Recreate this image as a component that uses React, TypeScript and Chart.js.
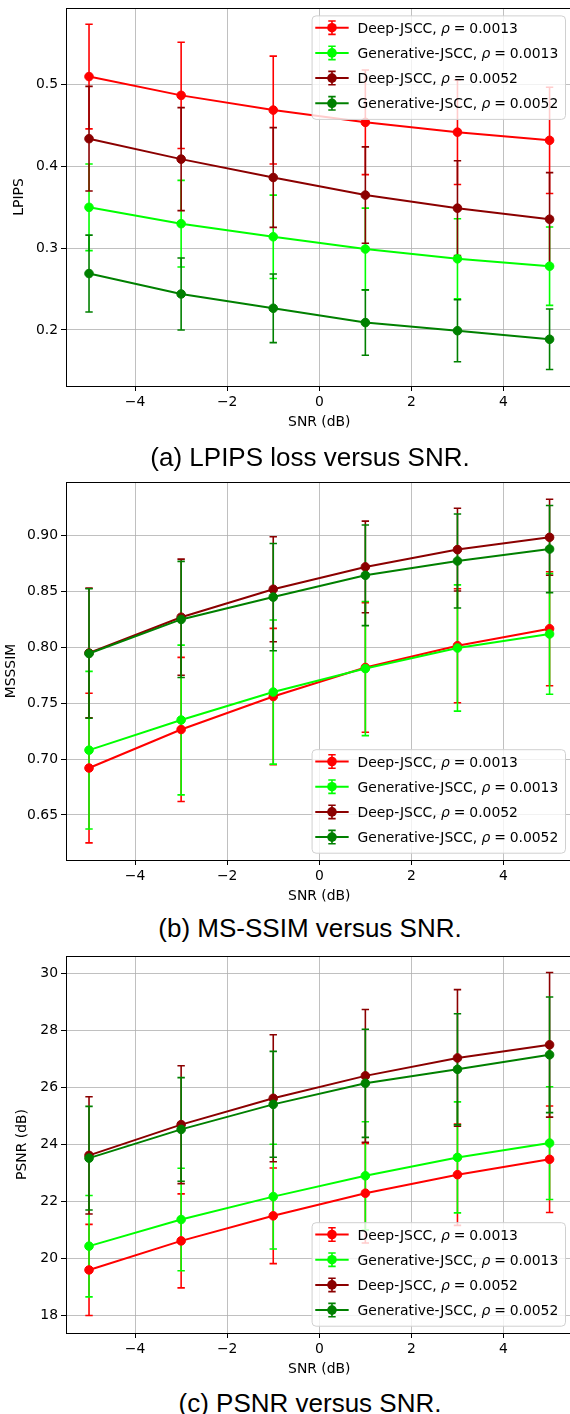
import React, { useEffect, useRef } from 'react';
import { Chart, registerables } from 'chart.js';

Chart.register(...registerables);

// ---------- data ----------
const snrDb = [-5, -3, -1, 1, 3, 5];
const xTicks = [-4, -2, 0, 2, 4];
const methodNames = ['Deep-JSCC', 'Generative-JSCC', 'Deep-JSCC', 'Generative-JSCC'];
const rhoValues = ['0.0013', '0.0013', '0.0052', '0.0052'];
const seriesColors = ['#ff0000', '#00ff00', '#8b0000', '#008000'];

// (a) LPIPS
const lpipsDeep0013 = [0.510, 0.487, 0.469, 0.454, 0.442, 0.432];
const lpipsDeep0013Err = [0.064, 0.065, 0.066, 0.064, 0.064, 0.065];
const lpipsGen0013 = [0.350, 0.330, 0.314, 0.299, 0.287, 0.278];
const lpipsGen0013Err = [0.053, 0.053, 0.051, 0.050, 0.049, 0.048];
const lpipsDeep0052 = [0.434, 0.409, 0.3865, 0.365, 0.349, 0.3355];
const lpipsDeep0052Err = [0.064, 0.063, 0.061, 0.059, 0.058, 0.057];
const lpipsGen0052 = [0.269, 0.244, 0.2265, 0.209, 0.199, 0.1886];
const lpipsGen0052Err = [0.047, 0.044, 0.042, 0.040, 0.038, 0.037];
const lpipsTicks = [0.2, 0.3, 0.4, 0.5];

// (b) MS-SSIM
const msssimDeep0013 = [0.692, 0.7265, 0.756, 0.782, 0.8015, 0.8167];
const msssimDeep0013Err = [0.067, 0.0645, 0.061, 0.058, 0.051, 0.051];
const msssimGen0013 = [0.708, 0.735, 0.760, 0.781, 0.7994, 0.812];
const msssimGen0013Err = [0.0705, 0.067, 0.0645, 0.060, 0.0565, 0.054];
const msssimDeep0052 = [0.795, 0.827, 0.852, 0.872, 0.8875, 0.8985];
const msssimDeep0052Err = [0.058, 0.052, 0.047, 0.041, 0.037, 0.034];
const msssimGen0052 = [0.7945, 0.825, 0.845, 0.8645, 0.8773, 0.888];
const msssimGen0052Err = [0.058, 0.052, 0.048, 0.045, 0.042, 0.039];
const msssimTicks = [0.65, 0.70, 0.75, 0.80, 0.85, 0.90];

// (c) PSNR
const psnrDeep0013 = [19.585, 20.605, 21.485, 22.28, 22.93, 23.47];
const psnrDeep0013Err = [1.6, 1.65, 1.68, 1.75, 1.78, 1.87];
const psnrGen0013 = [20.42, 21.355, 22.16, 22.89, 23.537, 24.04];
const psnrGen0013Err = [1.78, 1.8, 1.84, 1.9, 1.95, 1.98];
const psnrDeep0052 = [23.607, 24.687, 25.612, 26.40, 27.03, 27.49];
const psnrDeep0052Err = [2.06, 2.07, 2.23, 2.33, 2.4, 2.54];
const psnrGen0052 = [23.51, 24.52, 25.40, 26.14, 26.63, 27.14];
const psnrGen0052Err = [1.82, 1.82, 1.86, 1.9, 1.95, 2.03];
const psnrTicks = [18, 20, 22, 24, 26, 28, 30];

// ---------- layout / style ----------
type Panel = {
  values: number[][];
  errors: number[][];
  yTicks: number[];
  yMin: number;
  yMax: number;
  decimals: number;
  yTitle: string;
  yTitleCenter: number;
  legendPos: 'upper' | 'lower';
  caption: string;
  canvasTop: number;
  areaH: number;
  captionY: number;
};

const panels: Panel[] = [
  {
    values: [lpipsDeep0013, lpipsGen0013, lpipsDeep0052, lpipsGen0052],
    errors: [lpipsDeep0013Err, lpipsGen0013Err, lpipsDeep0052Err, lpipsGen0052Err],
    yTicks: lpipsTicks, yMin: 0.1314, yMax: 0.5939, decimals: 1,
    yTitle: 'LPIPS', yTitleCenter: 19, legendPos: 'upper',
    caption: '(a) LPIPS loss versus SNR.', canvasTop: -4, areaH: 378, captionY: 456.7,
  },
  {
    values: [msssimDeep0013, msssimGen0013, msssimDeep0052, msssimGen0052],
    errors: [msssimDeep0013Err, msssimGen0013Err, msssimDeep0052Err, msssimGen0052Err],
    yTicks: msssimTicks, yMin: 0.6097, yMax: 0.948, decimals: 2,
    yTitle: 'MSSSIM', yTitleCenter: 11, legendPos: 'lower',
    caption: '(b) MS-SSIM versus SNR.', canvasTop: 470, areaH: 378, captionY: 928.3,
  },
  {
    values: [psnrDeep0013, psnrGen0013, psnrDeep0052, psnrGen0052],
    errors: [psnrDeep0013Err, psnrGen0013Err, psnrDeep0052Err, psnrGen0052Err],
    yTicks: psnrTicks, yMin: 17.37, yMax: 30.61, decimals: 0,
    yTitle: 'PSNR (dB)', yTitleCenter: 22.5, legendPos: 'lower',
    caption: '(c) PSNR versus SNR.', canvasTop: 944, areaH: 377, captionY: 1403,
  },
];

const FS = 13.9;
const FONT_FAMILY = '"DejaVu Sans"';
const PAD_TOP = 12;
const X_AXIS_H = 50;
const CANVAS_W = 580;
const CAP = 3.7;

function roundedRect(ctx: CanvasRenderingContext2D, x: number, y: number, w: number, h: number, r: number) {
  ctx.beginPath();
  ctx.moveTo(x + r, y);
  ctx.lineTo(x + w - r, y);
  ctx.arcTo(x + w, y, x + w, y + r, r);
  ctx.lineTo(x + w, y + h - r);
  ctx.arcTo(x + w, y + h, x + w - r, y + h, r);
  ctx.lineTo(x + r, y + h);
  ctx.arcTo(x, y + h, x, y + h - r, r);
  ctx.lineTo(x, y + r);
  ctx.arcTo(x, y, x + r, y, r);
  ctx.closePath();
}

function PanelChart({ p }: { p: Panel }) {
  const ref = useRef<HTMLCanvasElement>(null);
  const canvasH = PAD_TOP + p.areaH + X_AXIS_H;

  useEffect(() => {
    const canvas = ref.current;
    if (!canvas) return;

    const datasets = p.values.map((vals, si) => ({
      type: 'line' as const,
      label: `${methodNames[si]}, ρ = ${rhoValues[si]}`,
      data: vals.map((v, i) => ({ x: snrDb[i], y: v })),
      borderColor: seriesColors[si],
      backgroundColor: seriesColors[si],
      pointBackgroundColor: seriesColors[si],
      pointBorderColor: seriesColors[si],
      borderWidth: 2,
      pointRadius: 4.3,
      pointBorderWidth: 1,
      tension: 0,
      fill: false,
      order: 10 - si,
    }));

    const extras = {
      id: 'mplExtras',
      beforeDatasetsDraw(chart: any) {
        const { ctx, chartArea: a, scales } = chart;
        const xs = scales.x;
        const ys = scales.y;
        ctx.save();
        ctx.beginPath();
        ctx.rect(a.left, a.top, a.right - a.left, a.bottom - a.top);
        ctx.clip();
        ctx.lineWidth = 1.6;
        p.values.forEach((vals, si) => {
          ctx.strokeStyle = seriesColors[si];
          vals.forEach((v, i) => {
            const e = p.errors[si][i];
            const px = xs.getPixelForValue(snrDb[i]);
            const hi = ys.getPixelForValue(v + e);
            const lo = ys.getPixelForValue(v - e);
            ctx.beginPath();
            ctx.moveTo(px, hi);
            ctx.lineTo(px, lo);
            ctx.moveTo(px - CAP, hi);
            ctx.lineTo(px + CAP, hi);
            ctx.moveTo(px - CAP, lo);
            ctx.lineTo(px + CAP, lo);
            ctx.stroke();
          });
        });
        ctx.restore();
      },
      afterDatasetsDraw(chart: any) {
        const { ctx, chartArea: a } = chart;
        ctx.save();
        // top and right spines
        ctx.strokeStyle = '#000';
        ctx.lineWidth = 1;
        ctx.beginPath();
        ctx.moveTo(a.left, Math.round(a.top) + 0.5);
        ctx.lineTo(a.right, Math.round(a.top) + 0.5);
        ctx.lineTo(a.right, a.bottom);
        ctx.stroke();

        // legend
        const fontN = `${FS}px ${FONT_FAMILY}`;
        const fontI = `italic ${FS}px ${FONT_FAMILY}`;
        const gap = 0.28 * FS;
        const widths = methodNames.map((name, i) => {
          ctx.font = fontN;
          let w = ctx.measureText(name + ', ').width;
          ctx.font = fontI;
          w += ctx.measureText('ρ').width;
          ctx.font = fontN;
          w += gap + ctx.measureText('=').width + gap + ctx.measureText(rhoValues[i]).width;
          return w;
        });
        const maxW = Math.max(...widths);
        const boxRight = a.right - 7.6;
        const textX = boxRight - 6.7 - maxW;
        const boxLeft = textX - 46;
        const boxH = 103.5;
        const boxTop = p.legendPos === 'upper' ? a.top + 7.4 : a.bottom - 7.3 - boxH;
        roundedRect(ctx, boxLeft + 0.5, boxTop + 0.5, boxRight - boxLeft, boxH, 4);
        ctx.fillStyle = 'rgba(255,255,255,0.8)';
        ctx.fill();
        ctx.strokeStyle = '#d0d0d0';
        ctx.lineWidth = 1;
        ctx.stroke();

        methodNames.forEach((name, i) => {
          const cy = boxTop + 12.3 + 25.2 * i;
          const cx = textX - 25.6;
          const col = seriesColors[i];
          ctx.strokeStyle = col;
          ctx.fillStyle = col;
          ctx.lineWidth = 2;
          ctx.beginPath();
          ctx.moveTo(cx - 16.7, cy);
          ctx.lineTo(cx + 16.7, cy);
          ctx.stroke();
          ctx.lineWidth = 1.6;
          ctx.beginPath();
          ctx.moveTo(cx, cy - 6.7);
          ctx.lineTo(cx, cy + 6.7);
          ctx.moveTo(cx - CAP, cy - 6.7);
          ctx.lineTo(cx + CAP, cy - 6.7);
          ctx.moveTo(cx - CAP, cy + 6.7);
          ctx.lineTo(cx + CAP, cy + 6.7);
          ctx.stroke();
          ctx.beginPath();
          ctx.arc(cx, cy, 4.8, 0, Math.PI * 2);
          ctx.fill();

          const base = cy + 0.365 * FS;
          ctx.fillStyle = '#000';
          ctx.textAlign = 'left';
          ctx.textBaseline = 'alphabetic';
          let x = textX;
          ctx.font = fontN;
          ctx.fillText(name + ', ', x, base);
          x += ctx.measureText(name + ', ').width;
          ctx.font = fontI;
          ctx.fillText('ρ', x, base);
          x += ctx.measureText('ρ').width + gap;
          ctx.font = fontN;
          ctx.fillText('=', x, base);
          x += ctx.measureText('=').width + gap;
          ctx.fillText(rhoValues[i], x, base);
        });
        ctx.restore();
      },
    };

    const tickFont = { family: 'DejaVu Sans', size: FS };
    const chart = new Chart(canvas, {
      type: 'line',
      data: { datasets: datasets as any },
      options: {
        responsive: false,
        animation: false,
        devicePixelRatio: 1,
        events: [],
        layout: { padding: { top: PAD_TOP, right: CANVAS_W - 572.6, left: 0, bottom: 0 } },
        plugins: { legend: { display: false }, tooltip: { enabled: false } },
        scales: {
          x: {
            type: 'linear',
            min: -5.5,
            max: 5.5,
            afterFit: (s: any) => { s.height = X_AXIS_H; },
            afterBuildTicks: (s: any) => { s.ticks = xTicks.map((v) => ({ value: v })); },
            ticks: {
              font: tickFont,
              color: '#000',
              padding: 3,
              maxRotation: 0,
              autoSkip: false,
              callback: (v: any) => (Number(v) < 0 ? '\u2212' + Math.abs(Number(v)) : String(v)),
            },
            grid: { color: '#b0b0b0', lineWidth: 0.8, tickColor: '#000', tickLength: 5, tickWidth: 1 },
            border: { display: true, color: '#000', width: 1 },
            title: {
              display: true,
              text: 'SNR (dB)',
              font: tickFont,
              color: '#000',
              padding: { top: 0, bottom: X_AXIS_H - 36.7 - FS * 0.6 },
            },
          },
          y: {
            type: 'linear',
            min: p.yMin,
            max: p.yMax,
            afterFit: (s: any) => { s.width = 66; },
            afterBuildTicks: (s: any) => { s.ticks = p.yTicks.map((v) => ({ value: v })); },
            ticks: {
              font: tickFont,
              color: '#000',
              padding: 3,
              autoSkip: false,
              callback: (v: any) => Number(v).toFixed(p.decimals),
            },
            grid: { color: '#b0b0b0', lineWidth: 0.8, tickColor: '#000', tickLength: 5, tickWidth: 1 },
            border: { display: true, color: '#000', width: 1 },
            title: {
              display: true,
              text: p.yTitle,
              font: tickFont,
              color: '#000',
              padding: { top: p.yTitleCenter - FS * 0.6, bottom: 0 },
            },
          },
        },
      } as any,
      plugins: [extras],
    });
    return () => chart.destroy();
  }, []);

  return (
    <canvas
      ref={ref}
      width={CANVAS_W}
      height={canvasH}
      style={{ position: 'absolute', left: 0, top: p.canvasTop, width: CANVAS_W, height: canvasH }}
    />
  );
}

export default function App() {
  return (
    <div
      style={{
        position: 'absolute',
        left: 0,
        top: 0,
        width: 570,
        height: 1414,
        overflow: 'hidden',
        background: '#fff',
      }}
    >
      {panels.map((p, i) => (
        <PanelChart key={i} p={p} />
      ))}
      {panels.map((p, i) => (
        <div
          key={'c' + i}
          style={{
            position: 'absolute',
            left: 0,
            width: 620,
            top: p.captionY - 15,
            height: 30,
            lineHeight: '30px',
            textAlign: 'center',
            fontFamily: '"Liberation Sans", Arial, sans-serif',
            fontSize: 26,
            color: '#000',
            whiteSpace: 'nowrap',
          }}
        >
          {p.caption}
        </div>
      ))}
    </div>
  );
}
